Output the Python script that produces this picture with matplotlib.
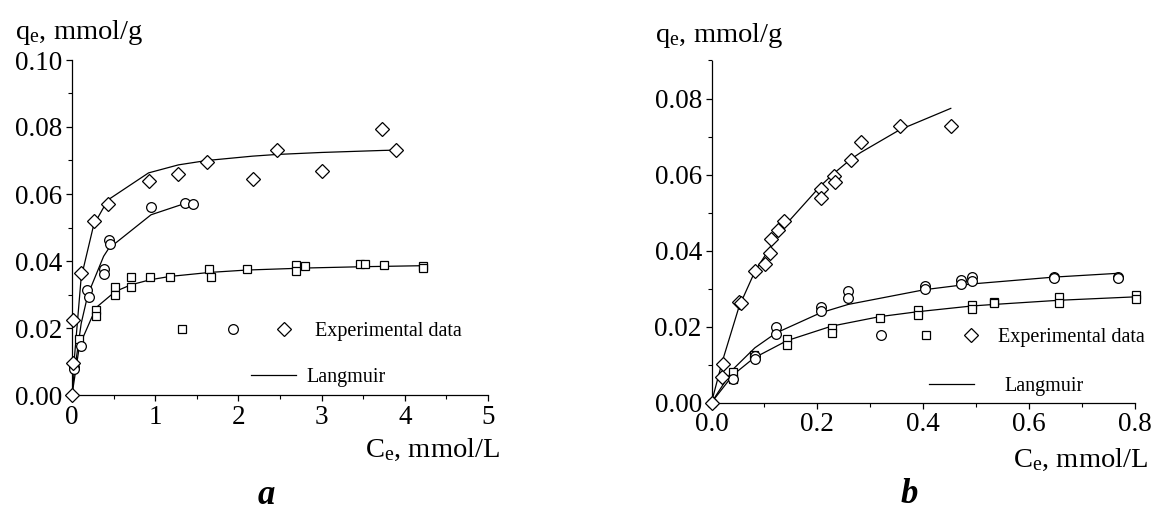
import matplotlib
matplotlib.use("Agg")
import matplotlib.pyplot as plt
from matplotlib.lines import Line2D
from matplotlib.legend_handler import HandlerTuple
from matplotlib.ticker import MultipleLocator, FormatStrFormatter

plt.rcParams["font.family"] = ["Liberation Serif", "DejaVu Serif"]
plt.rcParams["mathtext.fontset"] = "custom"
plt.rcParams["mathtext.rm"] = "Liberation Serif"
plt.rcParams["mathtext.it"] = "Liberation Serif:italic"

# panel a - experimental points
a_sq_x = [0.09, 0.29, 0.29, 0.52, 0.52, 0.71, 0.71, 0.94, 1.18, 1.65, 1.67, 2.1,
          2.69, 2.69, 2.8, 3.46, 3.52, 3.75, 4.22, 4.22]
a_sq_y = [0.0167, 0.0254, 0.0236, 0.0322, 0.030, 0.0352, 0.0322, 0.0352, 0.0352,
          0.0376, 0.0352, 0.0376, 0.0388, 0.037, 0.0385, 0.039, 0.039, 0.0388,
          0.0385, 0.0379]
a_ci_x = [0.02, 0.02, 0.11, 0.18, 0.20, 0.38, 0.385, 0.44, 0.46, 0.95, 1.36, 1.45]
a_ci_y = [0.0083, 0.0078, 0.0146, 0.0313, 0.0293, 0.0376, 0.0361, 0.0463, 0.045,
          0.056, 0.0573, 0.057]
a_di_x = [0.0, 0.01, 0.01, 0.11, 0.26, 0.43, 0.92, 1.28, 1.62, 2.17, 2.46, 3.0,
          3.73, 3.89]
a_di_y = [0.0, 0.0095, 0.0224, 0.0364, 0.052, 0.057, 0.064, 0.066, 0.0695, 0.0645,
          0.073, 0.067, 0.0794, 0.0731]

# panel a - Langmuir curves
a_fit_sq_x = [0, 0.09, 0.29, 0.52, 0.71, 0.94, 1.18, 1.66, 2.1, 2.69, 2.8, 3.5, 3.75, 4.22]
a_fit_sq_y = [0, 0.0148, 0.0261, 0.0309, 0.0329, 0.0344, 0.0354, 0.0366, 0.0373,
              0.0378, 0.0379, 0.0383, 0.0384, 0.0386]
a_fit_ci_x = [0, 0.02, 0.11, 0.19, 0.38, 0.44, 0.95, 1.36, 1.45]
a_fit_ci_y = [0, 0.0052, 0.0213, 0.0299, 0.0414, 0.0437, 0.0538, 0.0572, 0.0578]
a_fit_di_x = [0, 0.01, 0.11, 0.26, 0.43, 0.92, 1.28, 1.62, 2.17, 2.46, 3.0, 3.73, 3.89]
a_fit_di_y = [0, 0.0055, 0.0350, 0.0507, 0.0582, 0.0663, 0.0687, 0.0700, 0.0713,
              0.0718, 0.0724, 0.0730, 0.0731]

# panel b - experimental points
b_di_x = [0, 0.019, 0.021, 0.0525, 0.055, 0.082, 0.102, 0.111, 0.113, 0.126, 0.1375,
          0.206, 0.206, 0.231, 0.233, 0.263, 0.282, 0.356, 0.452]
b_di_y = [0, 0.0068, 0.0101, 0.0265, 0.0262, 0.0347, 0.0364, 0.0393, 0.0429, 0.0454,
          0.0477, 0.0561, 0.0538, 0.0596, 0.0581, 0.0637, 0.0685, 0.0728, 0.0728]
b_ci_x = [0, 0.041, 0.082, 0.082, 0.122, 0.122, 0.206, 0.206, 0.258, 0.258, 0.403,
          0.403, 0.472, 0.472, 0.492, 0.492, 0.647, 0.647, 0.768, 0.768]
b_ci_y = [0, 0.0062, 0.0122, 0.0115, 0.0198, 0.0179, 0.0252, 0.0242, 0.0293, 0.0276,
          0.0307, 0.0298, 0.0322, 0.0312, 0.0329, 0.0319, 0.0329, 0.0327, 0.0329, 0.0327]
b_sq_x = [0.041, 0.041, 0.08, 0.143, 0.143, 0.227, 0.227, 0.318, 0.39, 0.39, 0.492,
          0.492, 0.533, 0.533, 0.656, 0.656, 0.802, 0.802]
b_sq_y = [0.0081, 0.0061, 0.0125, 0.0166, 0.0151, 0.0197, 0.0183, 0.0222, 0.0243,
          0.0231, 0.0257, 0.0246, 0.0264, 0.0261, 0.0277, 0.0261, 0.0283, 0.0272]

# panel b - Langmuir curves
b_fit_di_x = [0, 0.02, 0.052, 0.082, 0.11, 0.126, 0.137, 0.206, 0.232, 0.263, 0.282,
              0.356, 0.452]
b_fit_di_y = [0, 0.0106, 0.0252, 0.0345, 0.0406, 0.0441, 0.0463, 0.0570, 0.0604,
              0.0640, 0.0658, 0.0718, 0.0774]
b_fit_ci_x = [0, 0.041, 0.082, 0.122, 0.206, 0.258, 0.403, 0.472, 0.492, 0.647, 0.768]
b_fit_ci_y = [0, 0.0088, 0.0144, 0.0183, 0.0236, 0.0258, 0.0297, 0.0309, 0.0312,
              0.0330, 0.0340]
b_fit_sq_x = [0, 0.041, 0.08, 0.143, 0.227, 0.318, 0.39, 0.492, 0.533, 0.656, 0.8]
b_fit_sq_y = [0, 0.0073, 0.0117, 0.0163, 0.0201, 0.0226, 0.0239, 0.0254, 0.0258,
              0.0269, 0.0278]

TICK_FS = 19.5
LABEL_FS = 20.5
LEG_FS = 14.5
LW = 0.9

mk = dict(linestyle="none", markerfacecolor="white", markeredgecolor="black",
          markeredgewidth=0.9, clip_on=False, zorder=3)
sq_style = dict(marker="s", markersize=6.3, **mk)
ci_style = dict(marker="o", markersize=7.0, **mk)
di_style = dict(marker="D", markersize=6.8, **mk)

fig = plt.figure(figsize=(11.54, 5.11), dpi=100)
ax_a = fig.add_axes([72 / 1154, 1 - 395 / 511, 416 / 1154, 335 / 511])
ax_b = fig.add_axes([711.5 / 1154, 1 - 402.5 / 511, 423.5 / 1154, 342 / 511])


def style_axes(ax):
    for side in ("top", "right"):
        ax.spines[side].set_visible(False)
    for side in ("left", "bottom"):
        ax.spines[side].set_linewidth(0.9)
    ax.tick_params(which="major", direction="out", length=4, width=0.9,
                   labelsize=TICK_FS, pad=3)
    ax.tick_params(which="minor", direction="out", length=2.6, width=0.8)


def draw_fits(ax, fits):
    for xs, ys in fits:
        ax.plot(xs, ys, color="black", linewidth=LW, zorder=2)


# ---- panel a ----
draw_fits(ax_a, [(a_fit_sq_x, a_fit_sq_y), (a_fit_ci_x, a_fit_ci_y),
                 (a_fit_di_x, a_fit_di_y)])
ax_a.plot(a_sq_x, a_sq_y, **sq_style)
ax_a.plot(a_ci_x, a_ci_y, **ci_style)
ax_a.plot(a_di_x, a_di_y, **di_style)
ax_a.set_xlim(0, 5)
ax_a.set_ylim(0, 0.10)
ax_a.xaxis.set_major_locator(MultipleLocator(1))
ax_a.xaxis.set_minor_locator(MultipleLocator(0.5))
ax_a.yaxis.set_major_locator(MultipleLocator(0.02))
ax_a.yaxis.set_minor_locator(MultipleLocator(0.01))
ax_a.yaxis.set_major_formatter(FormatStrFormatter("%.2f"))
style_axes(ax_a)

# ---- panel b ----
draw_fits(ax_b, [(b_fit_di_x, b_fit_di_y), (b_fit_ci_x, b_fit_ci_y),
                 (b_fit_sq_x, b_fit_sq_y)])
ax_b.plot(b_sq_x, b_sq_y, **sq_style)
ax_b.plot(b_ci_x, b_ci_y, **ci_style)
ax_b.plot(b_di_x, b_di_y, **di_style)
ax_b.set_xlim(0, 0.8)
ax_b.set_ylim(0, 0.09)
ax_b.xaxis.set_major_locator(MultipleLocator(0.2))
ax_b.xaxis.set_minor_locator(MultipleLocator(0.1))
ax_b.yaxis.set_major_locator(MultipleLocator(0.02))
ax_b.yaxis.set_minor_locator(MultipleLocator(0.01))
ax_b.xaxis.set_major_formatter(FormatStrFormatter("%.1f"))
ax_b.yaxis.set_major_formatter(FormatStrFormatter("%.2f"))
style_axes(ax_b)


def add_legends(ax, order, exp_anchor, exp_len, lang_anchor, lang_pad):
    styles = {"s": sq_style, "o": ci_style, "D": di_style}
    handles = tuple(Line2D([], [], **{k: v for k, v in styles[m].items()
                                       if k not in ("clip_on", "zorder")})
                    for m in order)
    leg1 = ax.legend([handles], ["Experimental data"],
                     handler_map={tuple: HandlerTuple(ndivide=None, pad=0)},
                     loc="center left", bbox_to_anchor=exp_anchor,
                     frameon=False, fontsize=LEG_FS, borderpad=0,
                     borderaxespad=0, handlelength=exp_len, handletextpad=0.25)
    ax.add_artist(leg1)
    line = Line2D([], [], color="black", linewidth=LW)
    ax.legend([line], ["Langmuir"], loc="center left",
              bbox_to_anchor=lang_anchor, frameon=False, fontsize=LEG_FS,
              borderpad=0, borderaxespad=0, handlelength=2.25,
              handletextpad=lang_pad)


add_legends(ax_a, ["s", "o", "D"], (0.203, 0.191), 7.6, (0.430, 0.051), 0.5)
add_legends(ax_b, ["o", "s", "D"], (0.347, 0.191), 6.7, (0.5136, 0.046), 1.5)

# axis titles
fig.text(15 / 1154, 1 - 39 / 511, r"q$_{\mathrm{e}}$, mmol/g", fontsize=LABEL_FS,
         ha="left", va="baseline")
fig.text(500 / 1154, 1 - 457 / 511, r"C$_{\mathrm{e}}$, mmol/L", fontsize=LABEL_FS,
         ha="right", va="baseline")
fig.text(655 / 1154, 1 - 42 / 511, r"q$_{\mathrm{e}}$, mmol/g", fontsize=LABEL_FS,
         ha="left", va="baseline")
fig.text(1148 / 1154, 1 - 467 / 511, r"C$_{\mathrm{e}}$, mmol/L", fontsize=LABEL_FS,
         ha="right", va="baseline")

# panel captions
fig.text(266 / 1154, 1 - 504 / 511, "a", fontsize=25, fontweight="bold",
         fontstyle="italic", ha="center", va="baseline")
fig.text(909 / 1154, 1 - 503 / 511, "b", fontsize=25, fontweight="bold",
         fontstyle="italic", ha="center", va="baseline")

fig.savefig("out.png", dpi=100, facecolor="white")
